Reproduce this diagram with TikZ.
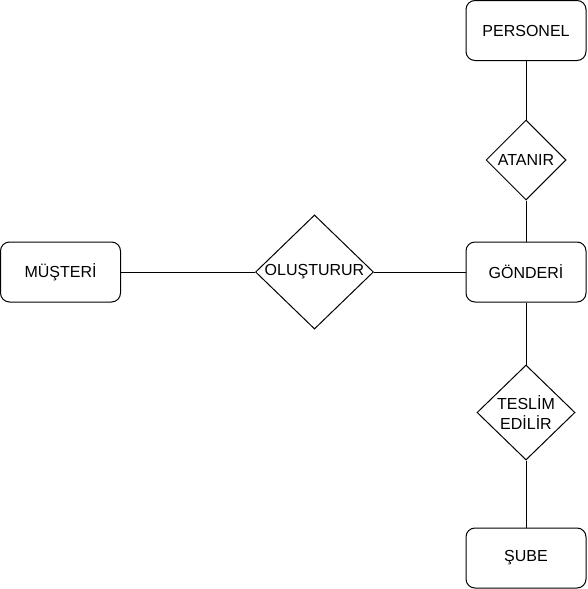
\documentclass[tikz,border=0pt]{standalone}
\usepackage{fontspec}
\setmainfont{Liberation Sans}
\usetikzlibrary{shapes.geometric}
\begin{document}
\begin{tikzpicture}[x=1pt,y=-1pt,
  every node/.style={font=\fontsize{16}{19.2}\selectfont, line width=1pt},
  entity/.style={draw, rectangle, rounded corners=9pt, minimum width=120pt, minimum height=60pt, inner sep=0pt},
  relation/.style={draw, diamond, inner sep=0pt, align=center},
  conn/.style={line width=1pt}]
\useasboundingbox (0,0) rectangle (587,589);
\node[entity] (personel) at (526,30.5) {PERSONEL};
\node[entity] (gonderi) at (526,272) {GÖNDERİ};
\node[entity] (sube) at (526,558) {ŞUBE};
\node[entity] (musteri) at (60.5,272) {MÜŞTERİ};
\node[relation, minimum width=80pt, minimum height=80pt] (atanir) at (526,160) {ATANIR};
\node[relation, minimum width=118pt, minimum height=110pt] (olusturur) at (314.5,272) {OLUŞTURUR};
\node[relation, minimum width=98pt, minimum height=95pt] (teslim) at (526,412.5) {TESLİM\\EDİLİR};
\draw[conn] (personel.south) -- (atanir.north);
\draw[conn] (atanir.south) -- (gonderi.north);
\draw[conn] (musteri.east) -- (olusturur.west);
\draw[conn] (olusturur.east) -- (gonderi.west);
\draw[conn] (gonderi.south) -- (teslim.north);
\draw[conn] (teslim.south) -- (sube.north);
\end{tikzpicture}
\end{document}
